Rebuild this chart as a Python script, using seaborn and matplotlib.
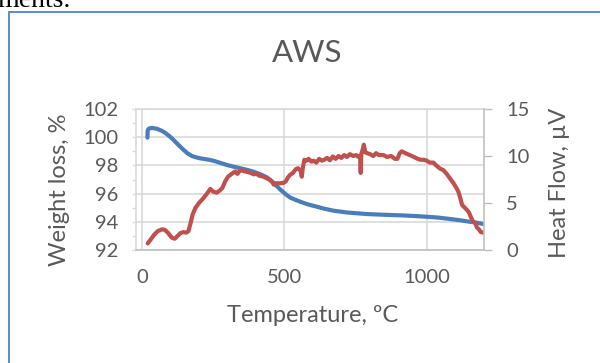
import numpy as np
import pandas as pd
import matplotlib
matplotlib.use("Agg")
import matplotlib.pyplot as plt
import matplotlib.patches as patches
from matplotlib.ticker import MultipleLocator
import seaborn as sns

# weight loss curve (left axis)
tga_temp = [19, 20, 25, 35, 52, 70, 82, 95, 111, 128, 146, 160, 175, 190, 205, 230, 251, 275,
            298, 320, 345, 370, 392, 415, 439, 460, 485, 505, 520, 540, 555, 580, 614, 640,
            672, 720, 789, 850, 906, 950, 1000, 1040, 1082, 1120, 1152, 1180, 1199]
tga_weight = [99.97, 100.5, 100.62, 100.66, 100.6, 100.45, 100.3, 100.1, 99.8, 99.45, 99.1, 98.85,
              98.67, 98.57, 98.5, 98.42, 98.33, 98.18, 98.03, 97.92, 97.8, 97.68, 97.55, 97.38,
              97.15, 96.8, 96.3, 95.95, 95.72, 95.55, 95.43, 95.25, 95.07, 94.93, 94.79, 94.66,
              94.55, 94.5, 94.46, 94.42, 94.36, 94.3, 94.2, 94.1, 94.0, 93.92, 93.84]

# heat flow curve (right axis)
dta_temp = [20, 30, 42, 55, 70, 80, 92, 105, 115, 125, 135, 145, 155, 163, 170, 178, 188, 200,
            215, 228, 240, 250, 262, 272, 282, 292, 302, 315, 327, 335, 345, 357, 370, 382, 392,
            402, 412, 427, 440, 450, 458, 463, 470, 485, 497, 505, 512, 520, 530, 540, 548, 555,
            558, 561, 564, 570, 578, 585, 595, 603, 612, 622, 632, 640, 650, 660, 670, 680, 690,
            700, 710, 720, 730, 742, 752, 760, 766, 768, 770, 776, 779, 784, 790, 801, 812, 822,
            832, 848, 860, 875, 888, 897, 905, 912, 925, 940, 955, 968, 978, 990, 1000, 1010,
            1023, 1033, 1047, 1058, 1070, 1082, 1094, 1104, 1111, 1118, 1124, 1130, 1140, 1148,
            1155, 1163, 1170, 1176, 1183, 1190, 1198]
dta_flow = [0.7, 1.1, 1.6, 2.0, 2.2, 2.15, 1.8, 1.3, 1.2, 1.5, 1.8, 1.9, 1.85, 2.0, 2.8, 3.8, 4.5,
            5.0, 5.5, 6.0, 6.5, 6.2, 6.1, 6.3, 6.6, 7.3, 7.8, 8.1, 8.35, 8.1, 8.5, 8.4, 8.3, 8.2,
            8.05, 8.1, 7.9, 7.8, 7.6, 7.45, 7.2, 6.95, 7.1, 7.1, 7.15, 7.3, 7.7, 8.0, 8.2, 8.6,
            8.7, 8.5, 8.3, 7.8, 8.6, 9.6, 9.5, 9.7, 9.4, 9.5, 9.3, 9.7, 9.5, 9.6, 9.8, 9.55, 9.95,
            9.7, 10.0, 9.8, 10.1, 9.9, 10.2, 10.0, 10.1, 9.9, 10.0, 8.2, 10.2, 10.8, 11.2, 10.4,
            10.3, 10.2, 10.0, 10.3, 10.1, 10.1, 9.9, 10.0, 9.7, 9.7, 10.3, 10.5, 10.3, 10.1, 9.9,
            9.7, 9.6, 9.6, 9.5, 9.3, 9.3, 9.0, 8.65, 8.5, 8.1, 7.6, 7.1, 6.6, 6.2, 5.5, 4.8, 4.6,
            4.3, 4.0, 3.5, 3.0, 2.9, 2.4, 2.2, 1.9, 1.85]

tga = pd.DataFrame({"temp": tga_temp, "weight": tga_weight})
dta = pd.DataFrame({"temp": dta_temp, "flow": dta_flow})

sns.set_style("white")
plt.rcParams["font.family"] = ["Lato", "DejaVu Sans"]

grey = "#595959"
grid_c = "#D9D9D9"
axis_c = "#BFBFBF"
tick_fs = 14.5
label_fs = 17

fig = plt.figure(figsize=(6, 3.63), dpi=100)
ax = fig.add_axes([0.2272, 0.3113, 0.579, 0.3884])

sns.lineplot(data=tga, x="temp", y="weight", ax=ax, color="#4A7EBB", lw=3,
             sort=False, estimator=None, solid_capstyle="round")
ax.set_xlim(-20, 1200)
ax.set_ylim(92, 102)
ax.set_xticks([0, 500, 1000])
ax.xaxis.set_minor_locator(MultipleLocator(100))
ax.set_yticks(range(92, 103, 2))
ax.yaxis.set_minor_locator(MultipleLocator(1))
ax.set_xlabel("")
ax.set_ylabel("")
ax.grid(True, which="major", color=grid_c, lw=1.2)
ax.set_axisbelow(True)
ax.tick_params(axis="x", which="both", direction="out", length=3, width=1, color=axis_c,
               labelsize=tick_fs, labelcolor=grey, pad=11)
ax.tick_params(axis="y", which="both", direction="out", length=3, width=1, color=grid_c,
               labelsize=tick_fs, labelcolor=grey, pad=10)
for side in ["left", "top"]:
    ax.spines[side].set_color(grid_c)
    ax.spines[side].set_linewidth(1.2)
ax.spines["bottom"].set_color(axis_c)
ax.spines["bottom"].set_linewidth(1.2)
ax.spines["right"].set_visible(False)

ax2 = ax.twinx()
sns.lineplot(data=dta, x="temp", y="flow", ax=ax2, color="#C0504D", lw=3,
             sort=False, estimator=None, solid_capstyle="round")
ax2.set_ylim(0, 15)
ax2.set_yticks([0, 5, 10, 15])
ax2.set_ylabel("")
ax2.tick_params(axis="y", direction="out", length=6, width=1, color=axis_c,
                labelsize=tick_fs, labelcolor=grey, pad=10)
for side in ["left", "top", "bottom"]:
    ax2.spines[side].set_visible(False)
ax2.spines["right"].set_color(axis_c)
ax2.spines["right"].set_linewidth(1.2)

fig.text(307 / 600, 1 - 53 / 363, "AWS", ha="center", va="center", fontsize=22.5, color=grey)
fig.text(59 / 600, 1 - 190 / 363, "Weight loss, %", ha="center", va="center",
         rotation=90, fontsize=label_fs, color=grey)
fig.text(560 / 600, 1 - 183 / 363, "Heat Flow, µV", ha="center", va="center",
         rotation=90, fontsize=label_fs, color=grey)
fig.text(313 / 600, 1 - 316 / 363, "Temperature, ºC", ha="center", va="center",
         fontsize=label_fs, color=grey)

# page text and chart border from the surrounding document
fig.text(-0.004, 1 - 7 / 363, "ments.", ha="left", va="baseline", fontsize=20,
         family="Liberation Serif", color="black")
fig.patches.append(patches.Rectangle((9 / 600, -0.1), 1.0, 1 - 12 / 363 + 0.1,
                                     transform=fig.transFigure, fill=False,
                                     edgecolor="#5B8BD3", lw=1.4))

fig.savefig("out.png", dpi=100)
